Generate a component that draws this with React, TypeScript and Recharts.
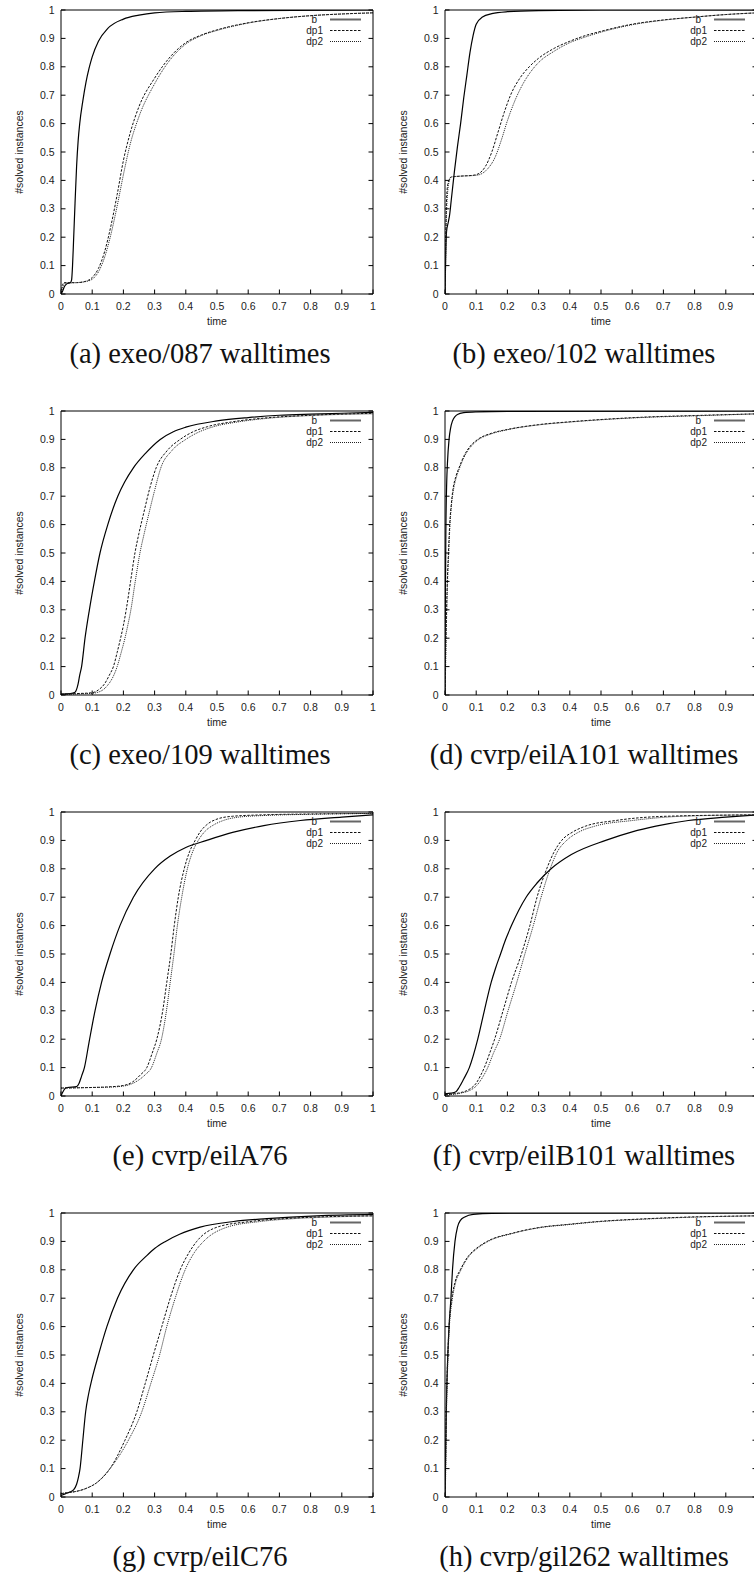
import React from "react";
import { LineChart, Line, XAxis, YAxis, Legend } from "recharts";

type Pt = [number, number];

const TICKS = [0, 0.1, 0.2, 0.3, 0.4, 0.5, 0.6, 0.7, 0.8, 0.9, 1];
const TICK_LABELS = ["0", "0.1", "0.2", "0.3", "0.4", "0.5", "0.6", "0.7", "0.8", "0.9", "1"];
const SERIES_NAMES = ["b", "dp1", "dp2"];
const CAPTIONS = [
  "(a) exeo/087 walltimes",
  "(b) exeo/102 walltimes",
  "(c) exeo/109 walltimes",
  "(d) cvrp/eilA101 walltimes",
  "(e) cvrp/eilA76",
  "(f) cvrp/eilB101 walltimes",
  "(g) cvrp/eilC76",
  "(h) cvrp/gil262 walltimes",
];

// (a) exeo/087
const A_B: Pt[] = [[0, 0], [0.005, 0.01], [0.012, 0.028], [0.02, 0.037], [0.03, 0.04], [0.034, 0.05], [0.037, 0.1], [0.04, 0.18], [0.045, 0.32], [0.05, 0.45], [0.055, 0.54], [0.06, 0.6], [0.07, 0.68], [0.08, 0.745], [0.09, 0.795], [0.1, 0.835], [0.12, 0.89], [0.15, 0.935], [0.2, 0.968], [0.25, 0.982], [0.3, 0.99], [0.4, 0.995], [0.6, 0.998], [1, 1]];
const A_DP1: Pt[] = [[0, 0], [0.004, 0.03], [0.01, 0.04], [0.05, 0.04], [0.08, 0.045], [0.1, 0.058], [0.12, 0.09], [0.14, 0.15], [0.16, 0.24], [0.18, 0.35], [0.2, 0.47], [0.22, 0.56], [0.25, 0.66], [0.3, 0.76], [0.35, 0.835], [0.4, 0.885], [0.45, 0.912], [0.5, 0.93], [0.6, 0.955], [0.7, 0.97], [0.8, 0.98], [0.9, 0.986], [1, 0.99]];
const A_DP2: Pt[] = [[0, 0], [0.006, 0.025], [0.012, 0.038], [0.05, 0.04], [0.08, 0.044], [0.1, 0.052], [0.12, 0.078], [0.14, 0.13], [0.16, 0.21], [0.18, 0.31], [0.2, 0.42], [0.22, 0.52], [0.25, 0.625], [0.3, 0.74], [0.35, 0.825], [0.4, 0.88], [0.45, 0.91], [0.5, 0.928], [0.6, 0.954], [0.7, 0.97], [0.8, 0.98], [0.9, 0.986], [1, 0.99]];

// (b) exeo/102
const B_B: Pt[] = [[0, 0], [0.002, 0.12], [0.005, 0.22], [0.01, 0.25], [0.015, 0.28], [0.02, 0.33], [0.03, 0.43], [0.04, 0.52], [0.05, 0.6], [0.06, 0.69], [0.07, 0.77], [0.08, 0.85], [0.09, 0.91], [0.1, 0.95], [0.12, 0.975], [0.15, 0.987], [0.2, 0.994], [0.3, 0.998], [0.5, 1], [1, 1]];
const B_DP1: Pt[] = [[0, 0], [0.002, 0.15], [0.004, 0.3], [0.007, 0.37], [0.012, 0.4], [0.02, 0.412], [0.05, 0.415], [0.09, 0.418], [0.11, 0.425], [0.13, 0.45], [0.15, 0.5], [0.17, 0.57], [0.19, 0.64], [0.21, 0.7], [0.24, 0.76], [0.27, 0.8], [0.3, 0.83], [0.35, 0.865], [0.4, 0.89], [0.45, 0.91], [0.5, 0.925], [0.6, 0.95], [0.7, 0.965], [0.8, 0.975], [0.9, 0.984], [1, 0.99]];
const B_DP2: Pt[] = [[0, 0], [0.002, 0.1], [0.004, 0.25], [0.008, 0.35], [0.014, 0.4], [0.02, 0.412], [0.05, 0.415], [0.1, 0.418], [0.12, 0.425], [0.14, 0.445], [0.16, 0.48], [0.18, 0.54], [0.2, 0.61], [0.22, 0.67], [0.25, 0.74], [0.28, 0.79], [0.3, 0.815], [0.35, 0.855], [0.4, 0.885], [0.45, 0.905], [0.5, 0.922], [0.6, 0.948], [0.7, 0.964], [0.8, 0.975], [0.9, 0.984], [1, 0.99]];

// (c) exeo/109
const C_B: Pt[] = [[0, 0.003], [0.03, 0.005], [0.045, 0.01], [0.055, 0.04], [0.06, 0.07], [0.066, 0.1], [0.077, 0.2], [0.091, 0.3], [0.107, 0.4], [0.125, 0.5], [0.15, 0.6], [0.182, 0.7], [0.204, 0.75], [0.232, 0.8], [0.27, 0.85], [0.318, 0.9], [0.36, 0.927], [0.4, 0.943], [0.5, 0.965], [0.6, 0.977], [0.7, 0.985], [0.8, 0.989], [0.9, 0.992], [1, 0.995]];
const C_DP1: Pt[] = [[0, 0.003], [0.05, 0.005], [0.1, 0.008], [0.12, 0.018], [0.14, 0.04], [0.155, 0.07], [0.168, 0.1], [0.18, 0.15], [0.191, 0.2], [0.2, 0.245], [0.209, 0.3], [0.223, 0.4], [0.237, 0.5], [0.25, 0.57], [0.265, 0.64], [0.285, 0.73], [0.305, 0.8], [0.34, 0.86], [0.382, 0.9], [0.42, 0.925], [0.47, 0.945], [0.55, 0.962], [0.65, 0.975], [0.8, 0.985], [1, 0.992]];
const C_DP2: Pt[] = [[0, 0.002], [0.05, 0.004], [0.1, 0.006], [0.13, 0.015], [0.15, 0.035], [0.165, 0.06], [0.18, 0.1], [0.193, 0.15], [0.205, 0.2], [0.215, 0.25], [0.224, 0.3], [0.238, 0.4], [0.253, 0.5], [0.267, 0.57], [0.282, 0.64], [0.3, 0.72], [0.32, 0.8], [0.355, 0.86], [0.4, 0.9], [0.44, 0.925], [0.49, 0.945], [0.57, 0.962], [0.67, 0.975], [0.8, 0.984], [1, 0.99]];

// (d) cvrp/eilA101
const D_B: Pt[] = [[0, 0], [0.001, 0.3], [0.003, 0.6], [0.0055, 0.75], [0.008, 0.82], [0.013, 0.9], [0.018, 0.94], [0.024, 0.965], [0.032, 0.98], [0.04, 0.988], [0.06, 0.994], [0.1, 0.997], [0.2, 0.999], [1, 1]];
const D_DP1: Pt[] = [[0, 0], [0.001, 0.08], [0.003, 0.2], [0.005, 0.3], [0.008, 0.42], [0.011, 0.5], [0.015, 0.6], [0.02, 0.67], [0.025, 0.72], [0.035, 0.77], [0.045, 0.8], [0.06, 0.84], [0.08, 0.875], [0.105, 0.9], [0.15, 0.922], [0.2, 0.935], [0.3, 0.952], [0.4, 0.962], [0.5, 0.97], [0.63, 0.978], [0.8, 0.984], [1, 0.99]];
const D_DP2: Pt[] = [[0, 0], [0.0015, 0.07], [0.0035, 0.19], [0.0055, 0.29], [0.0085, 0.41], [0.0115, 0.49], [0.0155, 0.59], [0.0205, 0.665], [0.026, 0.715], [0.036, 0.765], [0.046, 0.797], [0.061, 0.837], [0.081, 0.872], [0.106, 0.898], [0.15, 0.92], [0.2, 0.934], [0.3, 0.951], [0.4, 0.961], [0.5, 0.969], [0.63, 0.977], [0.8, 0.983], [1, 0.99]];

// (e) cvrp/eilA76
const E_B: Pt[] = [[0, 0], [0.005, 0.012], [0.012, 0.025], [0.02, 0.03], [0.05, 0.033], [0.058, 0.045], [0.066, 0.07], [0.075, 0.1], [0.09, 0.19], [0.109, 0.3], [0.13, 0.4], [0.157, 0.5], [0.189, 0.6], [0.232, 0.7], [0.3, 0.8], [0.35, 0.845], [0.4, 0.875], [0.467, 0.9], [0.55, 0.928], [0.65, 0.952], [0.767, 0.97], [0.9, 0.982], [1, 0.99]];
const E_DP1: Pt[] = [[0, 0.028], [0.1, 0.03], [0.15, 0.032], [0.2, 0.037], [0.23, 0.05], [0.255, 0.075], [0.275, 0.1], [0.292, 0.15], [0.307, 0.2], [0.326, 0.3], [0.339, 0.4], [0.352, 0.5], [0.363, 0.6], [0.376, 0.7], [0.395, 0.8], [0.412, 0.86], [0.43, 0.9], [0.446, 0.93], [0.467, 0.955], [0.5, 0.975], [0.55, 0.985], [0.65, 0.99], [0.8, 0.993], [1, 0.995]];
const E_DP2: Pt[] = [[0, 0.028], [0.1, 0.03], [0.15, 0.031], [0.2, 0.035], [0.24, 0.05], [0.27, 0.075], [0.29, 0.1], [0.307, 0.15], [0.322, 0.2], [0.338, 0.3], [0.35, 0.4], [0.362, 0.5], [0.373, 0.6], [0.387, 0.7], [0.405, 0.8], [0.422, 0.86], [0.44, 0.9], [0.46, 0.93], [0.49, 0.955], [0.52, 0.97], [0.57, 0.982], [0.66, 0.988], [0.8, 0.992], [1, 0.995]];

// (f) cvrp/eilB101
const F_B: Pt[] = [[0, 0.008], [0.02, 0.01], [0.035, 0.015], [0.045, 0.03], [0.06, 0.06], [0.078, 0.1], [0.105, 0.2], [0.126, 0.3], [0.148, 0.4], [0.162, 0.45], [0.178, 0.5], [0.194, 0.55], [0.213, 0.6], [0.26, 0.7], [0.295, 0.75], [0.34, 0.8], [0.405, 0.85], [0.515, 0.9], [0.6, 0.93], [0.676, 0.95], [0.78, 0.97], [0.9, 0.982], [1, 0.99]];
const F_DP1: Pt[] = [[0, 0.005], [0.05, 0.012], [0.08, 0.025], [0.1, 0.045], [0.113, 0.07], [0.126, 0.1], [0.143, 0.15], [0.159, 0.2], [0.186, 0.3], [0.213, 0.4], [0.245, 0.5], [0.272, 0.6], [0.295, 0.7], [0.326, 0.8], [0.35, 0.86], [0.374, 0.9], [0.41, 0.93], [0.45, 0.95], [0.547, 0.97], [0.71, 0.985], [1, 0.99]];
const F_DP2: Pt[] = [[0, 0.004], [0.05, 0.01], [0.08, 0.02], [0.1, 0.035], [0.12, 0.065], [0.137, 0.1], [0.155, 0.15], [0.175, 0.2], [0.202, 0.3], [0.23, 0.4], [0.256, 0.5], [0.283, 0.6], [0.308, 0.7], [0.337, 0.8], [0.36, 0.86], [0.39, 0.9], [0.43, 0.93], [0.48, 0.95], [0.6, 0.97], [0.76, 0.985], [1, 0.99]];

// (g) cvrp/eilC76
const G_B: Pt[] = [[0, 0.005], [0.015, 0.012], [0.03, 0.018], [0.04, 0.025], [0.05, 0.045], [0.056, 0.07], [0.061, 0.1], [0.07, 0.2], [0.079, 0.3], [0.088, 0.36], [0.098, 0.41], [0.12, 0.5], [0.147, 0.6], [0.181, 0.7], [0.232, 0.8], [0.275, 0.85], [0.3, 0.875], [0.335, 0.9], [0.38, 0.925], [0.446, 0.95], [0.553, 0.97], [0.66, 0.98], [0.82, 0.99], [1, 0.995]];
const G_DP1: Pt[] = [[0, 0.012], [0.02, 0.015], [0.05, 0.02], [0.08, 0.03], [0.114, 0.05], [0.157, 0.1], [0.205, 0.2], [0.243, 0.3], [0.27, 0.4], [0.296, 0.5], [0.323, 0.6], [0.35, 0.7], [0.382, 0.8], [0.41, 0.86], [0.435, 0.9], [0.5, 0.95], [0.606, 0.97], [0.713, 0.98], [0.85, 0.987], [1, 0.99]];
const G_DP2: Pt[] = [[0, 0.012], [0.02, 0.015], [0.05, 0.02], [0.08, 0.03], [0.114, 0.05], [0.157, 0.1], [0.216, 0.2], [0.259, 0.3], [0.288, 0.4], [0.316, 0.5], [0.339, 0.6], [0.366, 0.7], [0.398, 0.8], [0.427, 0.86], [0.457, 0.9], [0.532, 0.95], [0.638, 0.97], [0.745, 0.98], [0.87, 0.986], [1, 0.99]];

// (h) cvrp/gil262
const H_B: Pt[] = [[0, 0], [0.002, 0.15], [0.005, 0.35], [0.009, 0.5], [0.013, 0.6], [0.019, 0.7], [0.024, 0.8], [0.032, 0.9], [0.04, 0.95], [0.05, 0.975], [0.065, 0.987], [0.09, 0.995], [0.15, 0.999], [1, 1]];
const H_DP1: Pt[] = [[0, 0], [0.002, 0.12], [0.004, 0.3], [0.0065, 0.42], [0.009, 0.5], [0.013, 0.6], [0.022, 0.7], [0.033, 0.76], [0.049, 0.8], [0.076, 0.85], [0.1, 0.875], [0.135, 0.9], [0.22, 0.93], [0.308, 0.95], [0.395, 0.96], [0.49, 0.97], [0.65, 0.98], [0.76, 0.985], [1, 0.99]];
const H_DP2: Pt[] = [[0, 0], [0.0025, 0.1], [0.0045, 0.28], [0.007, 0.4], [0.0095, 0.49], [0.0135, 0.59], [0.0225, 0.69], [0.034, 0.755], [0.05, 0.797], [0.077, 0.848], [0.1, 0.872], [0.135, 0.898], [0.22, 0.929], [0.308, 0.949], [0.395, 0.959], [0.49, 0.969], [0.65, 0.979], [0.76, 0.984], [1, 0.99]];

const PANEL_SERIES: Pt[][][] = [
  [A_B, A_DP1, A_DP2],
  [B_B, B_DP1, B_DP2],
  [C_B, C_DP1, C_DP2],
  [D_B, D_DP1, D_DP2],
  [E_B, E_DP1, E_DP2],
  [F_B, F_DP1, F_DP2],
  [G_B, G_DP1, G_DP2],
  [H_B, H_DP1, H_DP2],
];

const LINE_STYLES = [
  { stroke: "#000", width: 1.2, dash: undefined as string | undefined },
  { stroke: "#111", width: 1, dash: "2.5 1.5" },
  { stroke: "#222", width: 1, dash: "1 1" },
];

// layout (plot box in page pixels)
const ML = 61;
const MT = 10;
const PW = 312;
const PH = 284;
const CW = 400;
const CH = 334;
const COL_LEFT = [0, 384];
const ROW_TOP = [0, 401, 802, 1203];
const SANS = "'Liberation Sans', Arial, Helvetica, sans-serif";
const TXT = "#222";
const FS = 10.5;

const bottomTick = (hideLast: boolean) => (p: any) => {
  const { x, y, payload } = p;
  const i = TICKS.indexOf(payload.value);
  const hide = hideLast && i === TICKS.length - 1;
  return (
    <g>
      <line x1={x} y1={y} x2={x} y2={y - 4.5} stroke="#000" />
      {!hide && (
        <text x={x} y={y + 12} dy="0.35em" textAnchor="middle" fontSize={FS} fontFamily={SANS} fill={TXT}>
          {TICK_LABELS[i]}
        </text>
      )}
    </g>
  );
};

const topTick = (p: any) => <line x1={p.x} y1={p.y} x2={p.x} y2={p.y + 4.5} stroke="#000" />;

const leftTick = (p: any) => {
  const { x, y, payload } = p;
  const i = TICKS.indexOf(payload.value);
  return (
    <g>
      <line x1={x} y1={y} x2={x + 4.5} y2={y} stroke="#000" />
      <text x={x - 6.5} y={y} dy="0.35em" textAnchor="end" fontSize={FS} fontFamily={SANS} fill={TXT}>
        {TICK_LABELS[i]}
      </text>
    </g>
  );
};

const rightTick = (p: any) => <line x1={p.x} y1={p.y} x2={p.x - 4.5} y2={p.y} stroke="#000" />;

const xLabel = (p: any) => {
  const vb = p.viewBox || {};
  return (
    <text x={vb.x + vb.width / 2} y={vb.y + 27.5} dy="0.35em" textAnchor="middle" fontSize={FS} fontFamily={SANS} fill={TXT}>
      time
    </text>
  );
};

const yLabel = (p: any) => {
  const vb = p.viewBox || {};
  const cx = vb.x + (vb.width || 0) - 42;
  const cy = vb.y + vb.height / 2;
  return (
    <text x={cx} y={cy} dy="0.35em" transform={`rotate(-90 ${cx} ${cy})`} textAnchor="middle" fontSize={FS} fontFamily={SANS} fill={TXT}>
      #solved instances
    </text>
  );
};

const KeyBox = () => (
  <svg width={120} height={40} style={{ display: "block", overflow: "visible" }}>
    {SERIES_NAMES.map((name, i) => {
      const cy = 9.5 + i * 11;
      const st = LINE_STYLES[i];
      return (
        <g key={name}>
          <text x={i === 0 ? 64 : 70} y={cy} dy="0.35em" textAnchor="end" fontSize={10} fontFamily={SANS} fill={TXT}>
            {name}
          </text>
          <line x1={77} y1={cy} x2={108} y2={cy} stroke={i === 0 ? "#666" : st.stroke} strokeWidth={i === 0 ? 2 : st.width} strokeDasharray={st.dash} />
        </g>
      );
    })}
  </svg>
);

const Panel = ({ idx }: { idx: number }) => {
  const col = idx % 2;
  const row = Math.floor(idx / 2);
  const left = COL_LEFT[col];
  const top = ROW_TOP[row];
  const series = PANEL_SERIES[idx];
  // each axis takes 1px, so margins are reduced by 1 to keep the plot box exact
  return (
    <>
      <div style={{ position: "absolute", left, top, width: CW, height: CH }}>
        <LineChart
          width={CW}
          height={CH}
          margin={{ top: MT - 1, right: CW - ML - PW - 1, bottom: CH - MT - PH - 1, left: ML - 1 }}
        >
          <XAxis
            dataKey="t"
            type="number"
            domain={[0, 1]}
            ticks={TICKS}
            interval={0}
            height={1}
            tickSize={0}
            tickMargin={0}
            tickLine={false}
            axisLine={{ stroke: "#000" }}
            tick={bottomTick(col === 1)}
            label={xLabel}
            allowDataOverflow
          />
          <XAxis
            xAxisId="top"
            orientation="top"
            type="number"
            domain={[0, 1]}
            ticks={TICKS}
            interval={0}
            height={1}
            tickSize={0}
            tickMargin={0}
            tickLine={false}
            axisLine={{ stroke: "#000" }}
            tick={topTick}
            allowDataOverflow
          />
          <YAxis
            type="number"
            domain={[0, 1]}
            ticks={TICKS}
            interval={0}
            width={1}
            tickSize={0}
            tickMargin={0}
            tickLine={false}
            axisLine={{ stroke: "#000" }}
            tick={leftTick}
            label={yLabel}
            allowDataOverflow
          />
          <YAxis
            yAxisId="right"
            orientation="right"
            type="number"
            domain={[0, 1]}
            ticks={TICKS}
            interval={0}
            width={1}
            tickSize={0}
            tickMargin={0}
            tickLine={false}
            axisLine={{ stroke: "#000" }}
            tick={rightTick}
            allowDataOverflow
          />
          <Legend
            layout="horizontal"
            verticalAlign="middle"
            align="center"
            wrapperStyle={{ position: "absolute", left: ML + PW - 120, top: MT, width: 120, height: 40 }}
            content={() => <KeyBox />}
          />
          {series.map((pts, i) => (
            <Line
              key={SERIES_NAMES[i]}
              name={SERIES_NAMES[i]}
              data={pts.map(([t, v]) => ({ t, v }))}
              dataKey="v"
              type="monotone"
              stroke={LINE_STYLES[i].stroke}
              strokeWidth={LINE_STYLES[i].width}
              strokeDasharray={LINE_STYLES[i].dash}
              dot={false}
              activeDot={false}
              isAnimationActive={false}
            />
          ))}
        </LineChart>
      </div>
      <div
        style={{
          position: "absolute",
          left: left,
          width: CW,
          top: top + MT + PH + 61.5 - 18,
          height: 32,
          lineHeight: "32px",
          textAlign: "center",
          fontFamily: "'Liberation Serif', 'Times New Roman', serif",
          fontSize: 28.5,
          color: "#111",
          whiteSpace: "nowrap",
        }}
      >
        {CAPTIONS[idx]}
      </div>
    </>
  );
};

const App = () => {
  return (
    <div style={{ position: "absolute", left: 0, top: 0, width: 754, height: 1575, overflow: "hidden", background: "#fff" }}>
      {CAPTIONS.map((_, i) => (
        <Panel key={i} idx={i} />
      ))}
    </div>
  );
};

export default App;
